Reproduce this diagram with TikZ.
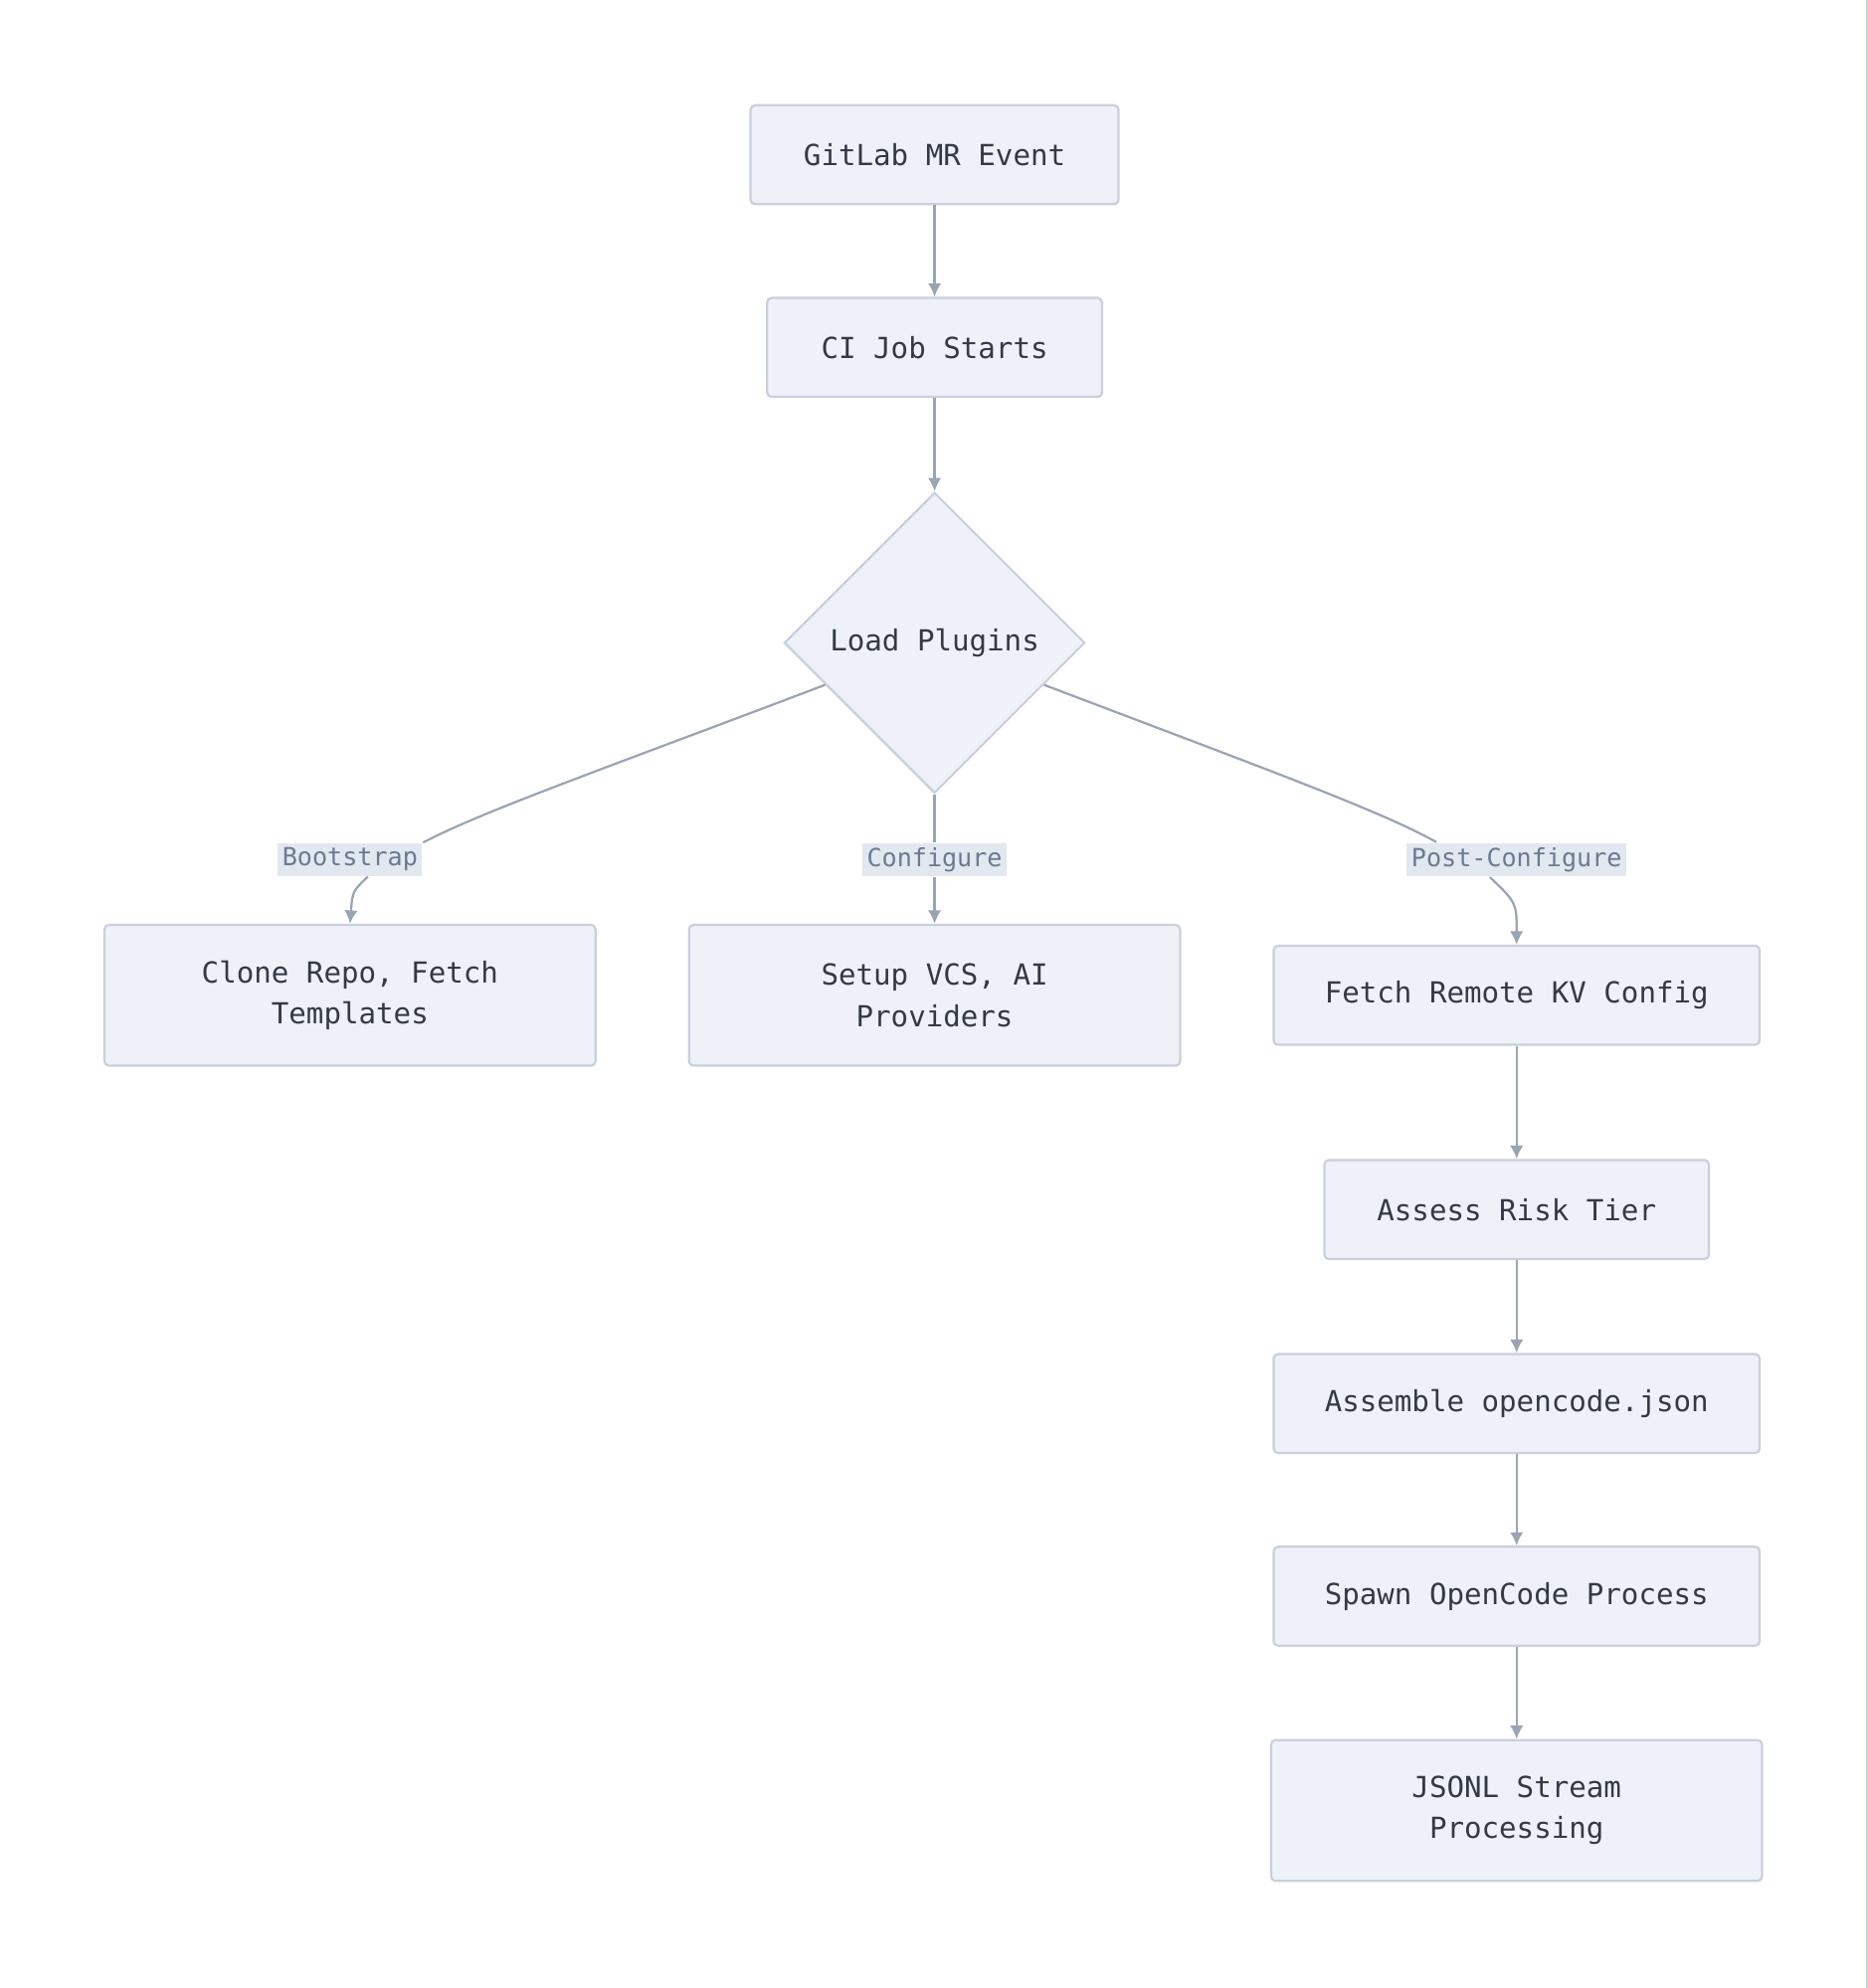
\documentclass[tikz,border=0pt]{standalone}
\usepackage{fontspec}
\setmonofont{DejaVu Sans Mono}
\usetikzlibrary{positioning, arrows.meta, shapes.geometric}
\definecolor{boxfill}{HTML}{EEF2F8}
\definecolor{boxline}{HTML}{C8D0DC}
\definecolor{arrowc}{HTML}{9AA5B4}
\definecolor{textc}{HTML}{333A45}
\definecolor{labfill}{HTML}{E2E8F0}
\definecolor{labtext}{HTML}{6B7A90}
\tikzset{
  box/.style={draw=boxline, fill=boxfill, rounded corners=1pt, line width=0.5pt,
    text=textc, font=\ttfamily\fontsize{6.5}{9.2}\selectfont, align=center, inner sep=0pt},
  lab/.style={fill=labfill, text=labtext, font=\ttfamily\fontsize{5.6}{7}\selectfont, inner sep=1pt},
  link/.style={draw=arrowc, line width=0.5pt, -{Latex[length=3pt,width=3pt]}},
  plain/.style={draw=arrowc, line width=0.5pt}
}
\begin{document}
\begin{tikzpicture}[x=0.01cm, y=-0.01cm]
\useasboundingbox (0,0) rectangle (1473,1568);
\draw[boxline, line width=0.4pt] (1472,0) -- (1472,1568);

\node[box, minimum width=2.9cm, minimum height=0.78cm] (event) at (737,122) {GitLab MR Event};
\node[box, minimum width=2.64cm, minimum height=0.78cm] (ci) at (737,274) {CI Job Starts};
\node[box, diamond, aspect=1, minimum width=2.37cm, minimum height=2.37cm, rounded corners=0pt] (load) at (737,507) {Load Plugins};

\node[lab] (boot) at (276,678) {Bootstrap};
\node[lab] (conf) at (737,678) {Configure};
\node[lab] (post) at (1196,678) {Post-Configure};

\node[box, minimum width=3.87cm, minimum height=1.11cm] (clone) at (276,785) {Clone Repo, Fetch\\Templates};
\node[box, minimum width=3.87cm, minimum height=1.11cm] (setup) at (737,785) {Setup VCS, AI\\Providers};
\node[box, minimum width=3.83cm, minimum height=0.78cm] (fetch) at (1196,785) {Fetch Remote KV Config};
\node[box, minimum width=3.03cm, minimum height=0.78cm] (assess) at (1196,954) {Assess Risk Tier};
\node[box, minimum width=3.83cm, minimum height=0.78cm] (assemble) at (1196,1107) {Assemble opencode.json};
\node[box, minimum width=3.83cm, minimum height=0.78cm] (spawn) at (1196,1259) {Spawn OpenCode Process};
\node[box, minimum width=3.87cm, minimum height=1.11cm] (jsonl) at (1196,1428) {JSONL Stream\\Processing};

\draw[link] (event) -- (ci);
\draw[link] (ci) -- (load);

\draw[plain] (load.201) .. controls (480,605) and (380,640) .. (boot.north east);
\draw[link] ([xshift=4pt]boot.south) .. controls (278,703) .. (clone.north);
\draw[plain] (load) -- (conf);
\draw[link] (conf) -- (setup);
\draw[plain] (load.339) .. controls (994,605) and (1090,640) .. ([xshift=-18pt]post.north);
\draw[link] ([xshift=-6pt]post.south) .. controls (1196,712) .. (fetch.north);

\draw[link] (fetch) -- (assess);
\draw[link] (assess) -- (assemble);
\draw[link] (assemble) -- (spawn);
\draw[link] (spawn) -- (jsonl);
\end{tikzpicture}
\end{document}
